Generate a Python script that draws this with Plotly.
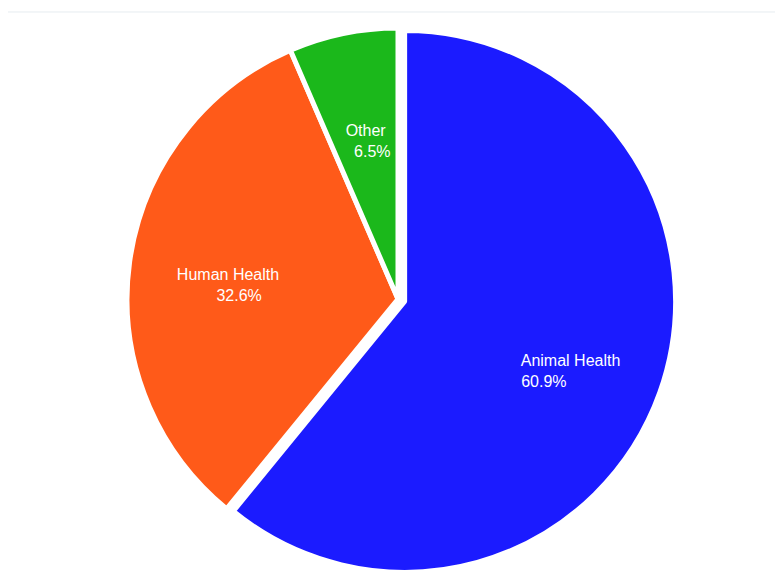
import plotly.graph_objects as go

labels = ["Animal Health", "Human Health", "Other"]
values = [60.9, 32.6, 6.5]

# styling
colors = ["#1b1bff", "#ff5a19", "#1bb81b"]
pulls = [0.026, 0, 0]
NB = "\u00a0"
# (blank lines above, leading spaces on label, leading / trailing spaces on percent)
text_pad = [(1, 0, 0, 12), (1, 2, 7, 0), (6, 6, 9, 0)]

templates = []
for blank, lab_lead, pct_lead, pct_trail in text_pad:
    templates.append(
        (NB + "<br>") * blank
        + NB * lab_lead + "%{label}<br>"
        + NB * pct_lead + "%{percent:.1%}" + NB * pct_trail
    )

font = dict(family="Liberation Sans, Arial, sans-serif", size=16, color="white")

fig = go.Figure()
fig.add_trace(go.Pie(
    labels=labels,
    values=values,
    sort=False,
    direction="clockwise",
    rotation=0,
    pull=pulls,
    marker=dict(colors=colors, line=dict(color="white", width=5)),
    textinfo="none",
    showlegend=False,
    hoverinfo="label+percent",
))
# transparent overlay carrying the slice texts
fig.add_trace(go.Pie(
    labels=labels,
    values=values,
    sort=False,
    direction="clockwise",
    rotation=0,
    pull=pulls,
    hole=0.3,
    marker=dict(colors=["rgba(0,0,0,0)"] * len(labels), line=dict(width=0)),
    texttemplate=templates,
    textposition="inside",
    insidetextorientation="horizontal",
    textfont=font,
    showlegend=False,
    hoverinfo="skip",
))

fig.update_layout(
    width=783, height=573,
    margin=dict(l=0, r=3, t=13, b=4),
    paper_bgcolor="white",
    plot_bgcolor="white",
    uniformtext=dict(minsize=16, mode="show"),
    shapes=[dict(type="line", xref="paper", yref="paper", x0=0, x1=1, y0=1.0162, y1=1.0162,
                 line=dict(color="#e6ecf0", width=1))],
)

fig.write_html("out.html")
